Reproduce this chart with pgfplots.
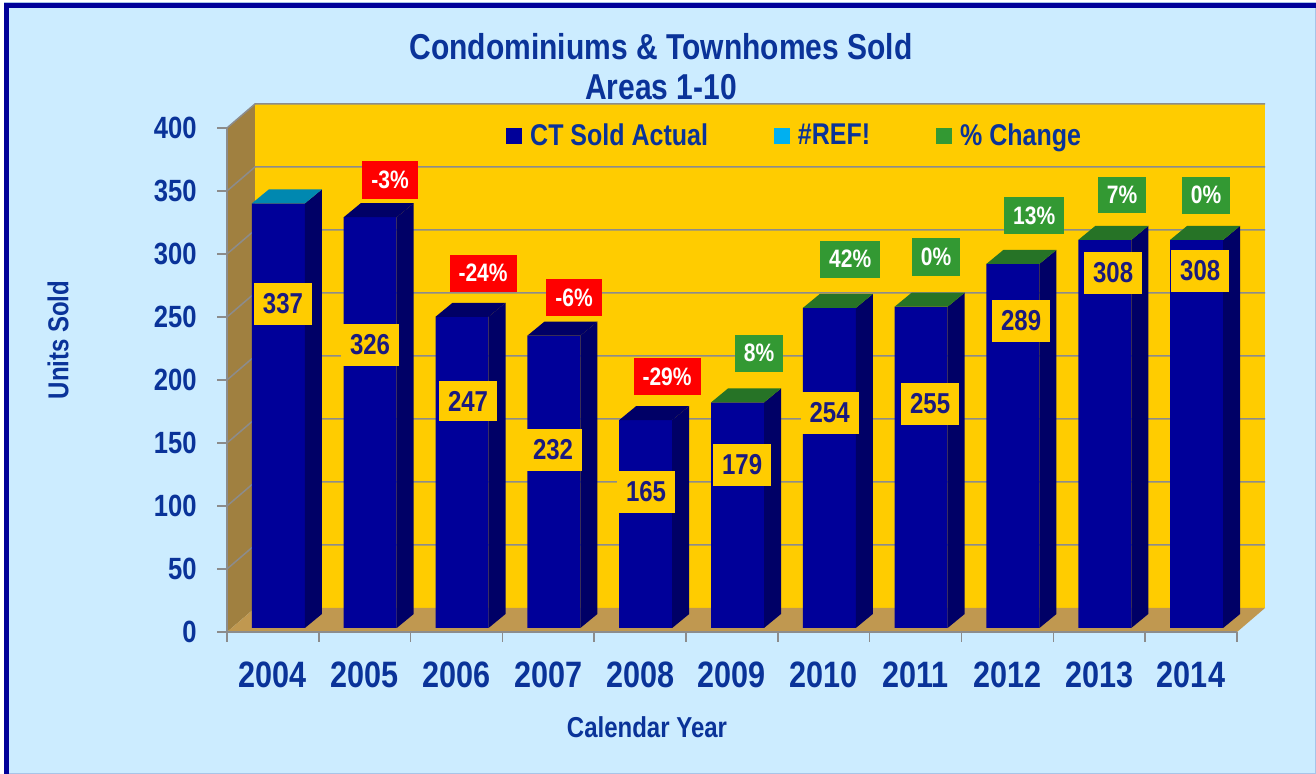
\documentclass[border=0pt]{standalone}
\usepackage{pgfplots}
\pgfplotsset{compat=1.18}
\usepackage{pgfplotstable}
\usepackage{graphicx}
\usepackage{fontspec}
\setmainfont{Liberation Sans}

\definecolor{bgblue}{HTML}{CCECFF}
\definecolor{framelight}{HTML}{A8C4E8}
\definecolor{frameblue}{HTML}{000099}
\definecolor{wallyellow}{HTML}{FFCC00}
\definecolor{sidewall}{HTML}{A08040}
\definecolor{floorc}{HTML}{C09850}
\definecolor{gridgray}{HTML}{8C8C8C}
\definecolor{barfront}{HTML}{000099}
\definecolor{barside}{HTML}{000066}
\definecolor{top0}{HTML}{0088B0}
\definecolor{top1}{HTML}{000066}
\definecolor{top2}{HTML}{267326}
\definecolor{legcyan}{HTML}{00B0F0}
\definecolor{leggreen}{HTML}{339933}
\definecolor{pctred}{HTML}{FF0000}
\definecolor{pctgreen}{HTML}{339933}
\definecolor{textblue}{HTML}{0A3399}
\definecolor{valnavy}{HTML}{1A1A80}

% text in the reference is a little taller than it is wide
\newcommand{\st}[1]{\scalebox{1}[1.2]{#1}}

\pgfplotstableread{
year units top vx vy
2004 337 0 2004.110 260.3
2005 326 1 2005.058 227.8
2006 247 1 2006.125 183.3
2007 232 1 2007.051 144.4
2008 165 1 2008.064 111.1
2009 179 2 2009.110 132.5
2010 254 2 2010.063 173.8
2011 255 2 2011.158 181.0
2012 289 2 2012.149 246.8
2013 308 2 2013.151 284.9
2014 308 2 2014.099 286.5
}\sold

\pgfplotstableread{
year pct px py
2005 -3 2005.276 358.7
2006 -24 2006.289 284.9
2007 -6 2007.280 265.1
2008 -29 2008.293 202.4
2009 8 2009.295 221.4
2010 42 2010.287 296.0
2011 0 2011.223 297.6
2012 13 2012.291 330.2
2013 7 2013.249 346.8
2014 0 2014.164 346.8
}\change

\begin{document}
\begin{tikzpicture}
\path[use as bounding box] (0,0) rectangle (658pt,387pt);
\fill[white] (0,0) rectangle (658pt,387pt);
\filldraw[fill=bgblue, draw=framelight, line width=0.5pt] (2pt,0.25pt) rectangle (657.75pt,385.5pt);
\draw[frameblue, line width=2.5pt] (3.25pt,0) -- (3.25pt,384.25pt) -- (658pt,384.25pt);

% 3-D walls and floor
\fill[sidewall] (113.5pt,71pt) -- (113.5pt,323pt) -- (127.5pt,335pt) -- (127.5pt,83pt) -- cycle;
\fill[wallyellow] (127.5pt,83pt) rectangle (632.5pt,335pt);
\fill[floorc] (113.5pt,71pt) -- (618.5pt,71pt) -- (632.5pt,83pt) -- (127.5pt,83pt) -- cycle;
\foreach \v in {50,100,...,400}{
  \draw[gridgray, line width=0.75pt] ({113.5pt},{(71+0.63*\v)*1pt}) -- ({127.5pt},{(83+0.63*\v)*1pt}) -- ({632.5pt},{(83+0.63*\v)*1pt});
}

\begin{axis}[
  at={(113.5pt,71pt)}, anchor=south west,
  scale only axis, width=505pt, height=252pt,
  xmin=2003.5, xmax=2014.5, ymin=0, ymax=400,
  clip=false,
  axis x line*=bottom, axis y line*=left,
  axis line style={gridgray, line width=0.75pt, -},
  xtick={2004,...,2014},
  minor xtick={2003.5,2004.5,...,2014.5},
  ytick={0,50,...,400},
  tick align=outside,
  major tick length=5pt, minor tick length=5pt,
  tick style={gridgray, line width=0.75pt},
  major x tick style={draw=none},
  /pgf/number format/assume math mode=true,
  xticklabel={\st{\pgfmathprintnumber[1000 sep={}, fixed, precision=0]{\tick}}},
  yticklabel={\st{\pgfmathprintnumber{\tick}}},
  xticklabel style={font=\fontsize{15.3}{18}\selectfont\bfseries, text=textblue, anchor=center, inner sep=0pt, yshift=-16.5pt},
  yticklabel style={font=\fontsize{12.8}{15}\selectfont\bfseries, text=textblue, anchor=east, inner sep=0pt, xshift=-10pt},
  legend columns=3,
  legend style={at={(axis description cs:0.563,0.984)}, anchor=center, draw=none, fill=none,
    font=\fontsize{12.5}{15}\selectfont\bfseries, text=textblue,
    /tikz/every odd column/.append style={column sep=2pt},
    /tikz/every even column/.append style={column sep=31pt}},
  legend cell align=left,
  legend image code/.code={\fill[#1] (0pt,-4pt) rectangle (8pt,4pt);},
]
\addlegendimage{fill=barfront, draw=none}
\addlegendentry{\st{CT Sold Actual}}
\addlegendimage{fill=legcyan, draw=none}
\addlegendentry{\st{\#REF!}}
\addlegendimage{fill=leggreen, draw=none}
\addlegendentry{\st{\% Change}}

% front faces
\addplot[ybar, bar width=26.5pt, bar shift=2.75pt, fill=barfront, draw=none, yshift=2pt, forget plot]
  table[x=year, y=units]{\sold};

% side and top faces, from the same table
\pgfplotsinvokeforeach{0,...,10}{%
  \pgfplotstablegetelem{#1}{year}\of\sold \let\yr\pgfplotsretval
  \pgfplotstablegetelem{#1}{units}\of\sold \let\uu\pgfplotsretval
  \pgfplotstablegetelem{#1}{top}\of\sold \let\tc\pgfplotsretval
  \edef\temp{%
    \noexpand\fill[barside] ([xshift=16pt,yshift=2pt]axis cs:\yr,\uu) -- ([xshift=24.5pt,yshift=9pt]axis cs:\yr,\uu)
      -- ([xshift=24.5pt,yshift=9pt]axis cs:\yr,0) -- ([xshift=16pt,yshift=2pt]axis cs:\yr,0) -- cycle;
    \noexpand\fill[top\tc] ([xshift=-10.5pt,yshift=2pt]axis cs:\yr,\uu) -- ([xshift=16pt,yshift=2pt]axis cs:\yr,\uu)
      -- ([xshift=24.5pt,yshift=9pt]axis cs:\yr,\uu) -- ([xshift=-2pt,yshift=9pt]axis cs:\yr,\uu) -- cycle;
  }\temp
}

% value labels
\addplot[only marks, mark=*, mark size=0pt, mark options={draw=none, fill=none}, forget plot,
  point meta=\thisrow{units},
  nodes near coords={\st{\pgfmathprintnumber{\pgfplotspointmeta}}},
  nodes near coords align=center,
  every node near coord/.append style={fill=wallyellow, text=valnavy,
    font=\fontsize{12}{14}\selectfont\bfseries, inner xsep=4.5pt, inner ysep=5.2pt}]
  table[x=vx, y=vy]{\sold};

% percent change labels
\addplot[only marks, mark=*, mark size=0pt, mark options={draw=none, fill=none}, forget plot,
  point meta=\thisrow{pct},
  restrict expr to domain={\thisrow{pct}}{-1000:-0.5},
  nodes near coords={\st{\pgfmathprintnumber{\pgfplotspointmeta}\%}},
  nodes near coords align=center,
  every node near coord/.append style={fill=pctred, text=white,
    font=\fontsize{10.5}{12}\selectfont\bfseries, inner xsep=4.5pt, inner ysep=4.8pt}]
  table[x=px, y=py]{\change};
\addplot[only marks, mark=*, mark size=0pt, mark options={draw=none, fill=none}, forget plot,
  point meta=\thisrow{pct},
  restrict expr to domain={\thisrow{pct}}{-0.5:1000},
  nodes near coords={\st{\pgfmathprintnumber{\pgfplotspointmeta}\%}},
  nodes near coords align=center,
  every node near coord/.append style={fill=pctgreen, text=white,
    font=\fontsize{10.5}{12}\selectfont\bfseries, inner xsep=4.5pt, inner ysep=4.8pt}]
  table[x=px, y=py]{\change};
\end{axis}

\node[text=textblue, font=\fontsize{15}{18}\selectfont\bfseries] at (330.5pt,363.5pt) {\st{Condominiums \& Townhomes Sold}};
\node[text=textblue, font=\fontsize{15}{18}\selectfont\bfseries] at (330.5pt,343.5pt) {\st{Areas 1-10}};
\node[text=textblue, font=\fontsize{12}{14}\selectfont\bfseries, rotate=90] at (29pt,217pt) {\st{Units Sold}};
\node[text=textblue, font=\fontsize{12}{14}\selectfont\bfseries] at (323.5pt,23.5pt) {\st{Calendar Year}};
\end{tikzpicture}
\end{document}
